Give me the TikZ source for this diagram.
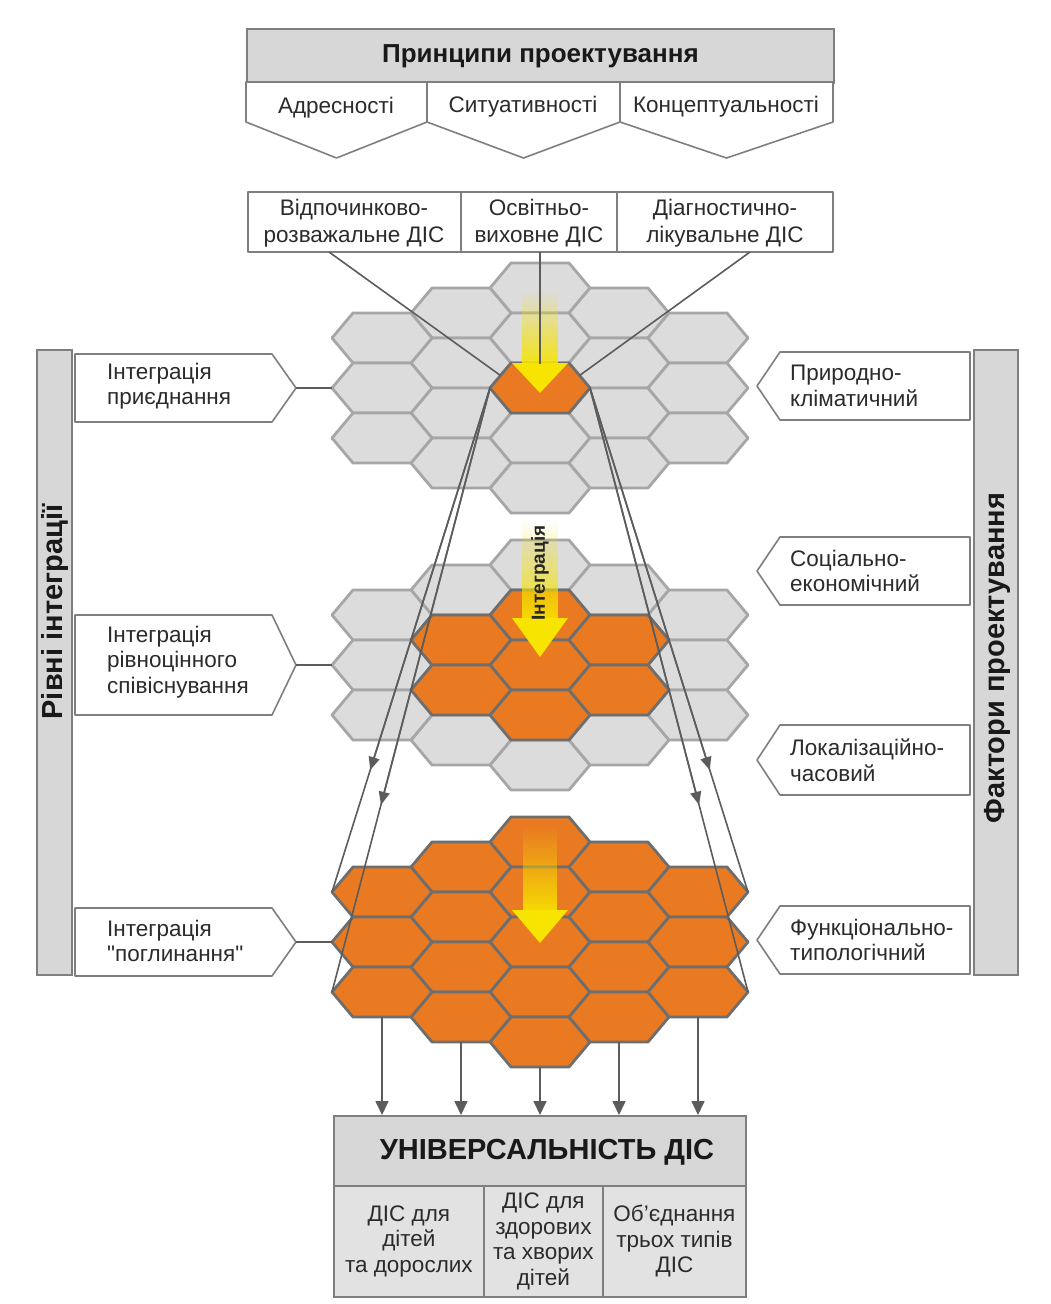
\documentclass[tikz,border=0pt]{standalone}
\usepackage{fontspec}
\setmainfont{Liberation Sans}
\newfontfamily\nomapfont[Ligatures=TeXOff]{Liberation Sans}
\usetikzlibrary{arrows.meta,calc,fadings}
\definecolor{hexgray}{HTML}{DCDCDC}
\definecolor{hexedge}{HTML}{A6A6A6}
\definecolor{orng}{HTML}{E97A21}
\definecolor{orngedge}{HTML}{6E6E6E}
\definecolor{boxgray}{HTML}{D7D7D7}
\definecolor{cellgray}{HTML}{E2E2E2}
\definecolor{bordgray}{HTML}{7F7F7F}
\definecolor{linegray}{HTML}{5C5C5C}
\definecolor{yel}{HTML}{F7E400}
\definecolor{txtc}{HTML}{2B2B2B}
\tikzfading[name=fadeup, top color=transparent!100, bottom color=transparent!10]
\newcommand\hexcell[3]{\draw[#3] (#1-50,#2) -- (#1-29,#2-25) -- (#1+29,#2-25) -- (#1+50,#2) -- (#1+29,#2+25) -- (#1-29,#2+25) -- cycle;}
\newcommand\hexcluster[2]{%
 \foreach \k in {0,...,4}{\hexcell{540}{288+#1+50*\k}{#2}}%
 \foreach \k in {0,...,3}{\hexcell{461}{313+#1+50*\k}{#2}\hexcell{619}{313+#1+50*\k}{#2}}%
 \foreach \k in {0,...,2}{\hexcell{382}{338+#1+50*\k}{#2}\hexcell{698}{338+#1+50*\k}{#2}}}
\newcommand\sq{{\nomapfont"}}
\begin{document}
\begin{tikzpicture}[x=1pt,y=-1pt,
  hexg/.style={fill=hexgray, draw=hexedge, line width=2.8pt, line join=round},
  hexo/.style={fill=orng, draw=orngedge, line width=2.8pt, line join=round},
  txt/.style={font=\fontsize{22.5}{26.5}\selectfont, text=txtc, inner sep=0pt, align=center},
  ltxt/.style={font=\fontsize{22.5}{25.5}\selectfont, text=txtc, inner sep=0pt, align=left, anchor=west},
  outline/.style={draw=bordgray, line width=1.6pt, fill=white, line join=round},
  graybox/.style={draw=bordgray, line width=1.8pt, fill=boxgray},
  bar/.style={draw=bordgray, line width=1.6pt, fill=boxgray, inner sep=0pt, rotate=90},
  bartxt/.style={font=\bfseries\fontsize{29}{32}\selectfont, text=black!90, rotate=90, inner sep=0pt},
  conn/.style={draw=linegray, line width=1.6pt},
  tipa/.style={-{Triangle[length=13pt,width=11pt]}},
  cellbox/.style={draw=bordgray, line width=1.8pt, fill=cellgray, inner sep=0pt, align=center,
    anchor=north west, font=\fontsize{22.5}{25.5}\selectfont, text=txtc},
]
\useasboundingbox (0,0) rectangle (1051,1304);
\fill[white] (0,0) rectangle (1051,1304);

% ---------- principles ----------
\node[graybox, minimum width=587, minimum height=54, anchor=north west, inner sep=0pt,
  font=\bfseries\fontsize{26}{30}\selectfont, text=black!90] (prin) at (246,28) {Принципи проектування};
\draw[outline] (246,82) -- (427,82) -- (427,122) -- (336.5,158) -- (246,122) -- cycle;
\draw[outline] (427,82) -- (620,82) -- (620,122) -- (523.5,158) -- (427,122) -- cycle;
\draw[outline] (620,82) -- (833,82) -- (833,122) -- (726.5,158) -- (620,122) -- cycle;
\node[txt] (pA) at (336,108) {Адресності};
\node[txt] (pS) at (523,107) {Ситуативності};
\node[txt] (pK) at (726,107) {Концептуальності};

% ---------- DIS types ----------
\draw[outline] (248,192) rectangle (833,252);
\draw[draw=bordgray, line width=1.6pt] (461,192) -- (461,252) (617,192) -- (617,252);
\node[txt] (d1) at (354,223) {Відпочинково-\\розважальне ДІС};
\node[txt] (d2) at (539,223) {Освітньо-\\виховне ДІС};
\node[txt] (d3) at (725,223) {Діагностично-\\лікувальне ДІС};

% ---------- hex clusters ----------
\hexcluster{0}{hexg}
\hexcell{540}{388}{hexo}
\hexcluster{277}{hexg}
\hexcell{540}{615}{hexo}\hexcell{540}{665}{hexo}\hexcell{540}{715}{hexo}
\hexcell{461}{640}{hexo}\hexcell{461}{690}{hexo}
\hexcell{619}{640}{hexo}\hexcell{619}{690}{hexo}
\hexcluster{554}{hexo}

% ---------- yellow arrows ----------
\fill[yel, path fading=fadeup] (522,290) rectangle (558,364);
\fill[yel] (512,363) -- (568,363) -- (540,393) -- cycle;
\fill[yel, path fading=fadeup] (522,520) rectangle (558,619);
\fill[yel] (512,618) -- (568,618) -- (540,657) -- cycle;
\node[font=\bfseries\fontsize{19}{22}\selectfont, text=black!85, rotate=90, inner sep=0pt] (intg) at (540,573) {Інтеграція};
\fill[yel, path fading=fadeup] (523,826) rectangle (557,911);
\fill[yel] (512,910) -- (568,910) -- (540,943) -- cycle;

% ---------- coordinates ----------
\coordinate (dL) at (329,252);
\coordinate (dC) at (540,252);
\coordinate (dR) at (750,252);
\coordinate (oTL) at (500.5,375.5);
\coordinate (oT) at (540,364);
\coordinate (oTR) at (579.5,375.5);
\coordinate (oL) at (490,388);
\coordinate (oR) at (590,388);
\coordinate (c3L1) at (332,892);
\coordinate (c3L3) at (332,992);
\coordinate (c3R1) at (748,892);
\coordinate (c3R3) at (748,992);
\coordinate (c1W) at (332,388);
\coordinate (c2W) at (332,665);
\coordinate (c3W) at (332,942);
\coordinate (b1) at (382,1017);
\coordinate (b2) at (461,1042);
\coordinate (b3) at (540,1067);
\coordinate (b4) at (619,1042);
\coordinate (b5) at (698,1017);

% ---------- connector lines ----------
\draw[conn] (dL) -- (oTL);
\draw[conn] (dC) -- (oT);
\draw[conn] (dR) -- (oTR);
\draw[conn] (oL) -- (c3L1);
\draw[conn] (oL) -- (c3L3);
\draw[conn] (oR) -- (c3R1);
\draw[conn] (oR) -- (c3R3);
\draw[conn, tipa] (oL) -- ($(oL)!0.758!(c3L1)$);
\draw[conn, tipa] (oL) -- ($(oL)!0.69!(c3L3)$);
\draw[conn, tipa] (oR) -- ($(oR)!0.758!(c3R1)$);
\draw[conn, tipa] (oR) -- ($(oR)!0.69!(c3R3)$);

% ---------- left side ----------
\node[bar, minimum width=625, minimum height=35] (lbar) at (54.5,662.5) {};
\node[bartxt] (lbart) at (55,612) {Рівні інтеграції};
\draw[outline] (75,354) -- (272,354) -- (296,388) -- (272,422) -- (75,422) -- cycle;
\draw[outline] (75,615) -- (272,615) -- (296,665) -- (272,715) -- (75,715) -- cycle;
\draw[outline] (75,908) -- (272,908) -- (296,942) -- (272,976) -- (75,976) -- cycle;
\coordinate (l1tip) at (296,388);
\coordinate (l2tip) at (296,665);
\coordinate (l3tip) at (296,942);
\node[ltxt] (l1) at (107,386) {Інтеграція\\приєднання};
\node[ltxt] (l2) at (107,662) {Інтеграція\\рівноцінного\\співіснування};
\node[ltxt] (l3) at (107,941) {Інтеграція\\\sq поглинання\sq};
\draw[conn, line width=1.3pt] (l1tip) -- (c1W);
\draw[conn, line width=1.3pt] (l2tip) -- (c2W);
\draw[conn, line width=1.3pt] (l3tip) -- (c3W);

% ---------- right side ----------
\node[bar, minimum width=625, minimum height=44] (rbar) at (996,662.5) {};
\node[bartxt] (rbart) at (997,658) {Фактори проектування};
\draw[outline] (780,352) -- (970,352) -- (970,420) -- (780,420) -- (757,386) -- cycle;
\draw[outline] (780,537) -- (970,537) -- (970,605) -- (780,605) -- (757,571) -- cycle;
\draw[outline] (780,725) -- (970,725) -- (970,795) -- (780,795) -- (757,760) -- cycle;
\draw[outline] (780,906) -- (970,906) -- (970,974) -- (780,974) -- (757,940) -- cycle;
\node[ltxt] (r1) at (790,386) {Природно-\\кліматичний};
\node[ltxt] (r2) at (790,571) {Соціально-\\економічний};
\node[ltxt] (r3) at (790,760) {Локалізаційно-\\часовий};
\node[ltxt] (r4) at (790,940) {Функціонально-\\типологічний};

% ---------- universality ----------
\node[draw=bordgray, line width=1.8pt, fill=boxgray, minimum width=412, minimum height=70,
  anchor=north west, inner sep=0pt] (univ) at (333,1115) {};
\node[font=\bfseries\fontsize{29}{32}\selectfont, text=black!90, inner sep=0pt] (univt) at (547,1152) {УНІВЕРСАЛЬНІСТЬ ДІС};
\node[cellbox, minimum width=150, minimum height=111] (u1) at (333,1185) {ДІС для\\дітей\\та дорослих};
\node[cellbox, minimum width=119, minimum height=111] (u2) at (483,1185) {ДІС для\\здорових\\та хворих\\дітей};
\node[cellbox, minimum width=143, minimum height=111] (u3) at (602,1185) {Об’єднання\\трьох типів\\ДІС};
\foreach \b in {b1,b2,b3,b4,b5}{
  \draw[conn, -{Triangle[length=14pt,width=13pt]}] (\b) -- (\b |- univ.north);
}
\end{tikzpicture}
\end{document}
